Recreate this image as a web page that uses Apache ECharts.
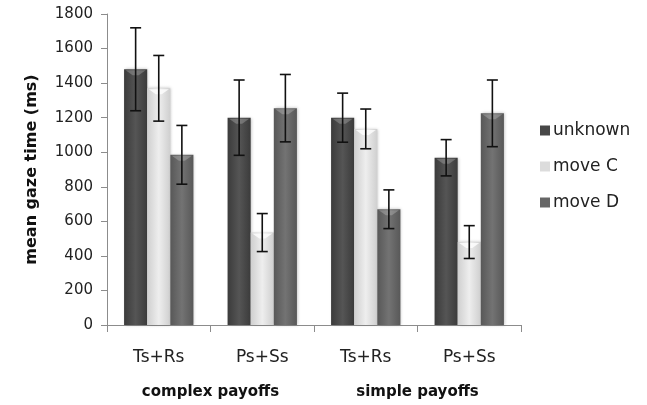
<!DOCTYPE html>
<html>
<head>
<meta charset="utf-8">
<script src="https://cdn.jsdelivr.net/npm/echarts@6/dist/echarts.min.js"></script>
<style>
  html, body { margin: 0; padding: 0; background: #fff; }
  #chart { width: 647px; height: 405px; }
</style>
</head>
<body>
<div id="chart"></div>
<script>
// Conditions on the x axis and their payoff groups
const categories = ['Ts+Rs', 'Ps+Ss', 'Ts+Rs', 'Ps+Ss'];
const groups = ['complex payoffs', 'simple payoffs'];

// Mean gaze time (ms) for each move type
const unknownMean = [1480, 1200, 1200, 968];
const moveCMean   = [1370, 535, 1135, 480];
const moveDMean   = [985, 1255, 670, 1225];

// Half-width of the error bars (ms)
const unknownErr = [240, 218, 142, 105];
const moveCErr   = [190, 110, 115, 95];
const moveDErr   = [170, 195, 112, 193];

const seriesNames = ['unknown', 'move C', 'move D'];
const yTicks = { min: 0, max: 1800, interval: 200 };

const FONT = 'DejaVu Sans';
const CAT_GAP = 0.33;

function barGradient(edge, mid) {
  return new echarts.graphic.LinearGradient(0, 0, 1, 0, [
    { offset: 0, color: edge },
    { offset: 0.5, color: mid },
    { offset: 1, color: edge }
  ]);
}

const fills = [
  barGradient('#3b3b3b', '#555555'),
  barGradient('#cfcfcf', '#eeeeee'),
  barGradient('#585858', '#737373')
];
const legendColors = ['#474747', '#dcdcdc', '#666666'];

const means = [unknownMean, moveCMean, moveDMean];
const errs = [unknownErr, moveCErr, moveDErr];

// Error-bar data: [category index, low, high, series index]
const errData = [];
means.forEach((arr, s) => {
  arr.forEach((v, i) => {
    errData.push([i, v - errs[s][i], v + errs[s][i], s]);
  });
});

function renderErr(params, api) {
  const i = api.value(0);
  const s = api.value(3);
  const band = api.size([1, 0])[0];
  const bw = band * (1 - CAT_GAP) / 3;
  const lo = api.coord([i, api.value(1)]);
  const hi = api.coord([i, api.value(2)]);
  const x = lo[0] + (s - 1) * bw;
  const cap = 5.5;
  const style = { stroke: '#111', lineWidth: 1.6 };
  return {
    type: 'group',
    children: [
      { type: 'line', shape: { x1: x, y1: hi[1], x2: x, y2: lo[1] }, style },
      { type: 'line', shape: { x1: x - cap, y1: hi[1], x2: x + cap, y2: hi[1] }, style },
      { type: 'line', shape: { x1: x - cap, y1: lo[1], x2: x + cap, y2: lo[1] }, style }
    ]
  };
}

// Small bevel highlight on top of each bar
function renderBevel(params, api) {
  const i = api.value(0);
  const s = api.value(2);
  const band = api.size([1, 0])[0];
  const bw = band * (1 - CAT_GAP) / 3;
  const top = api.coord([i, api.value(1)]);
  const cx = top[0] + (s - 1) * bw;
  const x0 = cx - bw / 2 + 1.5, x1 = cx + bw / 2 - 1.5;
  const shades = ['rgba(255,255,255,0.22)', 'rgba(255,255,255,0.8)', 'rgba(255,255,255,0.22)'];
  return {
    type: 'polygon',
    shape: { points: [[x0, top[1] + 1], [x1, top[1] + 1], [cx + 3, top[1] + 6], [cx - 3, top[1] + 6]] },
    style: { fill: shades[s] }
  };
}
const bevelData = [];
means.forEach((arr, s) => arr.forEach((v, i) => bevelData.push([i, v, s])));

const chart = echarts.init(document.getElementById('chart'), null, { renderer: 'canvas' });

const barSeries = means.map((arr, s) => ({
  name: seriesNames[s],
  type: 'bar',
  data: arr,
  barGap: '0%',
  barCategoryGap: (CAT_GAP * 100) + '%',
  itemStyle: {
    color: fills[s],
    shadowColor: 'rgba(0,0,0,0.25)',
    shadowBlur: 3,
    shadowOffsetX: 1
  },
  emphasis: { disabled: true }
}));

chart.setOption({
  animation: false,
  backgroundColor: '#ffffff',
  textStyle: { fontFamily: FONT },
  grid: { left: 107, right: 126, top: 14, bottom: 80, containLabel: false },
  legend: {
    orient: 'vertical',
    left: 535,
    top: 117,
    itemWidth: 10,
    itemHeight: 10,
    itemGap: 19,
    icon: 'rect',
    textStyle: { fontFamily: FONT, fontSize: 17, color: '#222', padding: [0, 0, 0, -2] },
    data: seriesNames.map((n, s) => ({ name: n, itemStyle: { color: legendColors[s] } }))
  },
  xAxis: [
    {
      type: 'category',
      data: categories,
      axisLine: { lineStyle: { color: '#8c8c8c', width: 1 } },
      axisTick: { show: true, length: 7, lineStyle: { color: '#8c8c8c' } },
      axisLabel: { margin: 24, fontSize: 17, color: '#222', fontFamily: FONT }
    },
    {
      type: 'category',
      position: 'bottom',
      offset: 60,
      data: groups,
      axisLine: { show: false },
      axisTick: { show: false },
      axisLabel: { margin: 0, fontSize: 15, fontWeight: 'bold', color: '#111', fontFamily: FONT }
    }
  ],
  yAxis: {
    type: 'value',
    min: yTicks.min,
    max: yTicks.max,
    interval: yTicks.interval,
    name: 'mean gaze time (ms)',
    nameLocation: 'middle',
    nameGap: 67,
    nameTextStyle: { fontSize: 16, fontWeight: 'bold', color: '#111', fontFamily: FONT },
    axisLine: { show: true, lineStyle: { color: '#8c8c8c' } },
    axisTick: { show: true, length: 6, lineStyle: { color: '#8c8c8c' } },
    splitLine: { show: false },
    axisLabel: { margin: 14, fontSize: 15, color: '#222', fontFamily: FONT, formatter: (v) => String(v) }
  },
  series: barSeries.concat([
    {
      type: 'custom',
      name: 'bevel',
      renderItem: renderBevel,
      data: bevelData,
      encode: { x: 0, y: 1 },
      z: 5,
      silent: true
    },
    {
      type: 'custom',
      name: 'errors',
      renderItem: renderErr,
      data: errData,
      encode: { x: 0, y: [1, 2] },
      z: 10,
      silent: true
    }
  ])
});
</script>
</body>
</html>
